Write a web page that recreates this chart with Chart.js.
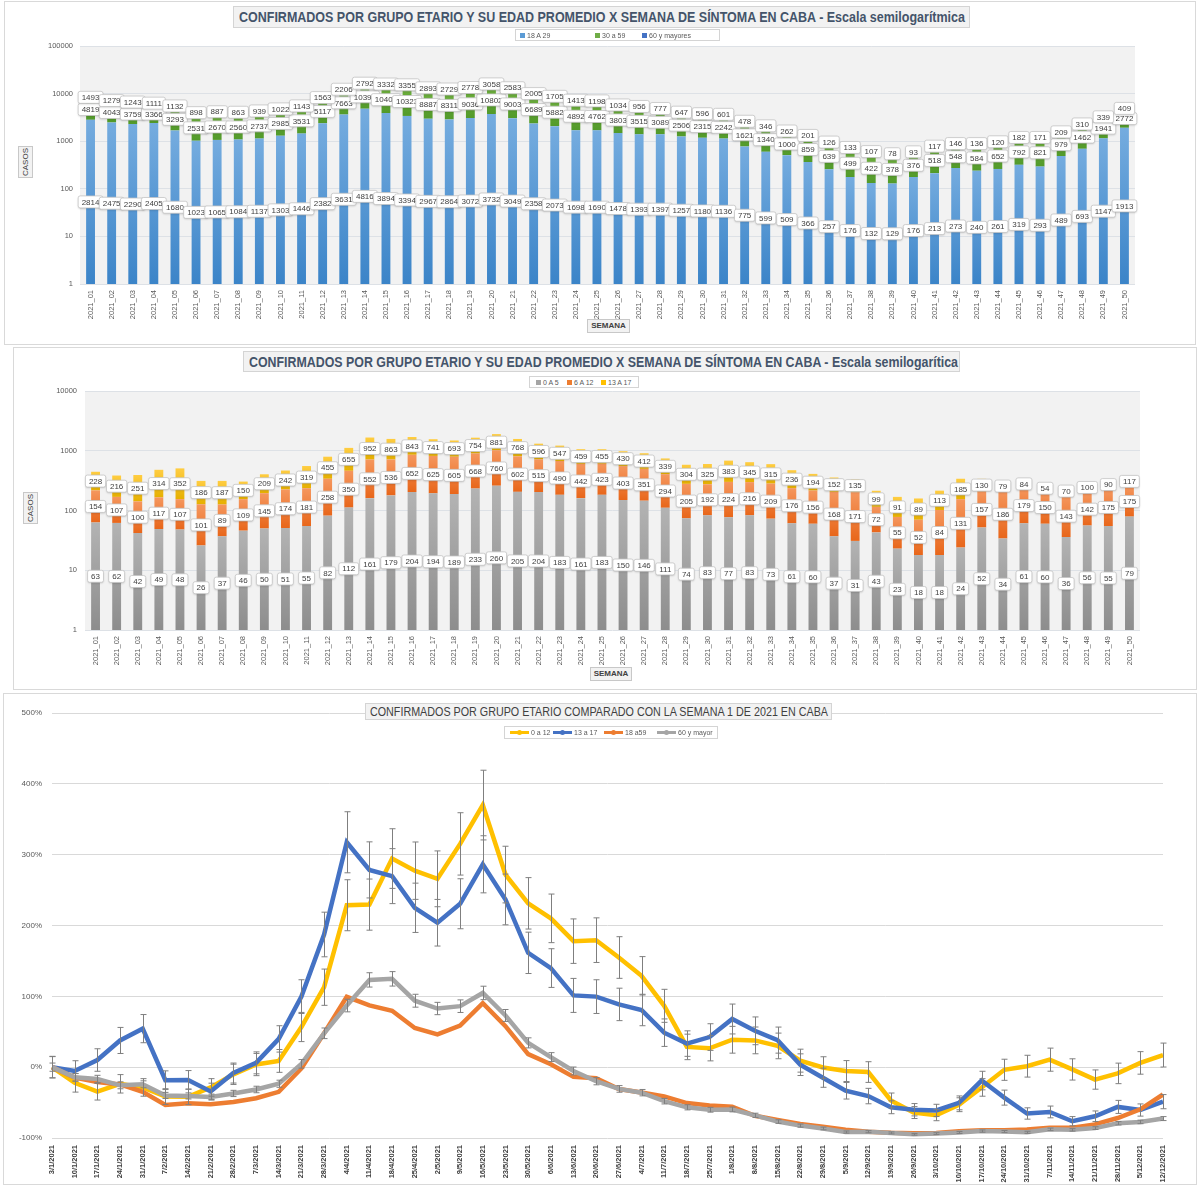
<!DOCTYPE html>
<html>
<head>
<meta charset="utf-8">
<script src="https://cdn.jsdelivr.net/npm/chart.js@4.4.1/dist/chart.umd.min.js"></script>
<style>
  body { margin: 0; background: #fff; font-family: "Liberation Sans", Arial, sans-serif; }
  .frame { position: absolute; border: 1px solid #d9d9d9; box-sizing: border-box; }
  .wrap { position: absolute; left: 0; width: 1200px; }
  .tt { position: absolute; background: #f2f2f2; border: 1px solid #d4d4d4; box-sizing: border-box;
        overflow: hidden; white-space: nowrap; }
  .tt span { display: inline-block; transform-origin: 0 50%; }
  .t12 { font-weight: bold; color: #44546a; font-size: 14px; line-height: 20px; padding-left: 5px; }
  .t3 { color: #404040; font-size: 13px; line-height: 15px; padding-left: 4px; }
  .lg { position: absolute; border: 1px solid #d4d4d4; box-sizing: border-box; background: #fff;
        font-size: 7px; color: #595959; }
  .lg .it { position: absolute; top: 2px; white-space: nowrap; line-height: 8px; }
  .lg .it i { display: inline-block; width: 5px; height: 5px; margin-right: 2px; vertical-align: 0; }
  .lg .ln { position: absolute; top: 2px; white-space: nowrap; line-height: 8px; }
  .lg .ln b { display: inline-block; position: relative; width: 19px; height: 3px; margin-right: 2px; vertical-align: 1px; }
  .lg .ln b::after { content: ""; position: absolute; left: 7px; top: -1px; width: 5px; height: 5px; border-radius: 50%; background: inherit; }
  .ax { position: absolute; background: #f2f2f2; border: 1px solid #c8c8c8; box-sizing: border-box;
        font-size: 8px; color: #404040; text-align: center; }
  .vert { writing-mode: vertical-rl; transform: rotate(180deg); line-height: 13px; }
</style>
</head>
<body>
<div class="frame" style="left:4px;top:1px;width:1192px;height:344px"></div>
<div class="frame" style="left:13px;top:347px;width:1184px;height:343px"></div>
<div class="frame" style="left:3px;top:693px;width:1194px;height:492px"></div>

<div class="wrap" style="top:0;height:345px"><canvas id="c1"></canvas></div>
<div class="wrap" style="top:347px;height:343px"><canvas id="c2"></canvas></div>
<div class="wrap" style="top:693px;height:494px"><canvas id="c3"></canvas></div>

<div class="tt t12" id="t1" style="left:233px;top:6px;width:737px;height:22px"><span>CONFIRMADOS POR GRUPO ETARIO Y SU EDAD PROMEDIO X SEMANA DE SÍNTOMA EN CABA - Escala semilogarítmica</span></div>
<div class="lg" style="left:515px;top:29px;width:205px;height:12px">
  <span class="it" style="left:4px"><i style="background:#5b9bd5"></i>18 A 29</span>
  <span class="it" style="left:79px"><i style="background:#70ad47"></i>30 a 59</span>
  <span class="it" style="left:126px"><i style="background:#4472c4"></i>60 y mayores</span>
</div>
<div class="ax vert" style="left:18px;top:146px;width:15px;height:32px">CASOS</div>
<div class="ax" style="left:587px;top:319px;width:43px;height:14px;line-height:12px;font-weight:bold">SEMANA</div>

<div class="tt t12" id="t2" style="left:243px;top:351px;width:717px;height:21px"><span>CONFIRMADOS POR GRUPO ETARIO Y SU EDAD PROMEDIO X SEMANA DE SÍNTOMA EN CABA - Escala semilogarítica</span></div>
<div class="lg" style="left:529px;top:376px;width:110px;height:12px">
  <span class="it" style="left:6px"><i style="background:#a5a5a5"></i>0 A 5</span>
  <span class="it" style="left:37px"><i style="background:#ed7d31"></i>6 A 12</span>
  <span class="it" style="left:71px"><i style="background:#ffc000"></i>13 A 17</span>
</div>
<div class="ax vert" style="left:23px;top:492px;width:15px;height:32px">CASOS</div>
<div class="ax" style="left:590px;top:667px;width:42px;height:14px;line-height:12px;font-weight:bold">SEMANA</div>

<div class="tt t3" id="t3" style="left:365px;top:703px;width:467px;height:17px"><span>CONFIRMADOS POR GRUPO ETARIO COMPARADO CON LA SEMANA 1 DE 2021 EN CABA</span></div>
<div class="lg" style="left:504px;top:726px;width:214px;height:13px">
  <span class="ln" style="left:5px"><b style="background:#ffc000"></b>0 a 12</span>
  <span class="ln" style="left:48px"><b style="background:#4472c4"></b>13 a 17</span>
  <span class="ln" style="left:99px"><b style="background:#ed7d31"></b>18 a59</span>
  <span class="ln" style="left:152px"><b style="background:#a5a5a5"></b>60 y mayor</span>
</div>

<script>
const semanas = ['2021_01','2021_02','2021_03','2021_04','2021_05','2021_06','2021_07','2021_08','2021_09','2021_10',
  '2021_11','2021_12','2021_13','2021_14','2021_15','2021_16','2021_17','2021_18','2021_19','2021_20',
  '2021_21','2021_22','2021_23','2021_24','2021_25','2021_26','2021_27','2021_28','2021_29','2021_30',
  '2021_31','2021_32','2021_33','2021_34','2021_35','2021_36','2021_37','2021_38','2021_39','2021_40',
  '2021_41','2021_42','2021_43','2021_44','2021_45','2021_46','2021_47','2021_48','2021_49','2021_50'];

// grafico 1: adultos
const casos18a29 = [2814,2475,2290,2405,1680,1023,1065,1084,1137,1303,1446,2382,3631,4816,3894,3394,2967,2864,3072,3732,
  3049,2358,2073,1698,1690,1478,1393,1397,1257,1180,1136,775,599,509,366,257,176,132,129,176,213,273,240,261,319,293,489,693,1147,1913];
const casos30a59 = [4819,4043,3759,3366,3293,2531,2670,2560,2737,2985,3531,5117,7663,10394,10403,10323,8887,8311,9036,10802,
  9003,6689,5882,4892,4762,3803,3515,3089,2506,2315,2242,1621,1340,1000,859,639,499,422,378,376,518,548,584,652,792,821,979,1462,1941,2772];
const casos60mas = [1493,1279,1243,1111,1132,898,887,863,939,1022,1143,1563,2206,2792,3332,3355,2893,2729,2778,3058,
  2583,2005,1705,1413,1198,1034,956,777,647,596,601,478,346,262,201,126,133,107,78,93,117,146,136,120,182,171,209,310,339,409];
const ticksLog1 = [1,10,100,1000,10000,100000];

// grafico 2: menores
const casos0a5 = [63,62,42,49,48,26,37,46,50,51,55,82,112,161,179,204,194,189,233,260,
  205,204,183,161,183,150,146,111,74,83,77,83,73,61,60,37,31,43,23,18,18,24,52,34,61,60,36,56,55,79];
const casos6a12 = [154,107,100,117,107,101,89,109,145,174,181,258,350,552,536,652,625,605,668,760,
  602,515,490,442,423,403,351,294,205,192,224,216,209,176,156,168,171,72,55,52,84,131,157,186,179,150,143,142,175,175];
const casos13a17 = [228,216,251,314,352,186,187,150,209,242,319,455,655,952,863,843,741,693,754,881,
  768,596,547,459,455,430,412,339,304,325,383,345,315,236,194,152,135,99,91,89,113,185,130,79,84,54,70,100,90,117];
const ticksLog2 = [1,10,100,1000,10000];

// grafico 3: variacion vs semana 1 (%)
const fechas = ['3/1/2021','10/1/2021','17/1/2021','24/1/2021','31/1/2021','7/2/2021','14/2/2021','21/2/2021','28/2/2021','7/3/2021',
  '14/3/2021','21/3/2021','28/3/2021','4/4/2021','11/4/2021','18/4/2021','25/4/2021','2/5/2021','9/5/2021','16/5/2021',
  '23/5/2021','30/5/2021','6/6/2021','13/6/2021','20/6/2021','27/6/2021','4/7/2021','11/7/2021','18/7/2021','25/7/2021',
  '1/8/2021','8/8/2021','15/8/2021','22/8/2021','29/8/2021','5/9/2021','12/9/2021','19/9/2021','26/9/2021','3/10/2021',
  '10/10/2021','17/10/2021','24/10/2021','31/10/2021','7/11/2021','14/11/2021','21/11/2021','28/11/2021','5/12/2021','12/12/2021'];
const var0a12 = [0,-22.1,-34.6,-23.5,-28.6,-41.5,-41.9,-28.6,-10.1,3.7,8.8,56.7,112.9,228.6,229.5,294.5,277.4,265.9,315.2,370.0,
  271.9,231.3,210.1,177.9,179.3,154.8,129.0,86.6,28.6,26.7,38.7,37.8,30.0,9.2,-0.5,-5.5,-6.9,-47.0,-64.1,-67.7,
  -53.0,-28.6,-3.7,1.4,10.6,-3.2,-17.5,-8.8,6.0,17.1];
const var13a17 = [0,-5.3,10.1,37.7,54.4,-18.4,-18.0,-34.2,-8.3,6.1,39.9,99.6,187.3,317.5,278.5,269.7,225.0,203.9,230.7,286.4,
  236.8,161.4,139.9,101.3,99.6,88.6,80.7,48.7,33.3,42.5,68.0,51.3,38.2,3.5,-14.9,-33.3,-40.8,-56.6,-60.1,-61.0,
  -50.4,-18.9,-43.0,-65.4,-63.2,-76.3,-69.3,-56.1,-60.5,-48.7];
const var18a59 = [0,-14.6,-20.8,-24.4,-34.8,-53.4,-51.1,-52.3,-49.2,-43.8,-34.8,-1.8,48.0,99.3,87.3,79.7,55.3,46.4,58.6,90.4,
  57.9,18.5,4.2,-13.7,-15.5,-30.8,-35.7,-41.2,-50.7,-54.2,-55.7,-68.6,-74.6,-80.2,-84.0,-88.3,-91.2,-92.7,-93.4,-92.8,
  -90.4,-89.2,-89.2,-88.0,-85.4,-85.4,-80.8,-71.8,-59.5,-38.6];
const var60mas = [0,-14.3,-16.7,-25.6,-24.2,-39.9,-40.6,-42.2,-37.1,-31.5,-23.4,4.7,47.8,87.0,123.2,124.7,93.8,82.8,86.1,104.8,
  73.0,34.3,14.2,-5.4,-19.8,-30.7,-36.0,-48.0,-56.7,-60.1,-59.7,-68.0,-76.8,-82.5,-86.5,-91.6,-91.1,-92.8,-94.8,-93.8,
  -92.2,-90.2,-90.9,-92.0,-87.8,-88.5,-86.0,-79.2,-77.3,-72.6];
// barras de error (+/- puntos porcentuales)
const err0a12 = [15.3,13.1,11.8,13.0,12.4,11.1,11.0,12.4,14.3,15.7,16.1,20.6,25.6,36.0,36.1,42.1,40.5,39.4,44.0,49.2,
  40.0,36.3,34.3,31.4,31.5,29.4,27.1,23.3,18.0,17.8,18.9,18.9,18.1,16.2,15.2,14.8,14.6,10.5,8.4,7.9,
  9.8,12.4,14.9,15.4,16.3,15.0,13.6,14.5,15.9,16.9];
const err13a17 = [14.9,14.4,15.9,18.4,19.9,13.2,13.2,11.6,14.1,15.5,18.6,23.8,31.5,43.1,39.6,38.8,34.8,32.9,35.3,40.3,
  35.8,29.2,27.3,24.0,23.8,22.9,22.2,19.4,18.0,18.8,21.1,19.6,18.4,15.3,13.5,11.7,10.9,9.1,8.7,8.6,
  9.8,13.1,10.6,8.0,8.3,6.5,7.5,9.2,8.6,10.0];
const err60mas = [5.8,5.3,5.2,4.9,4.9,4.3,4.3,4.2,4.4,4.6,5.0,6.0,7.5,8.9,10.1,10.2,9.1,8.7,8.9,9.5,
  8.4,7.1,6.3,5.6,5.1,4.7,4.5,3.9,3.6,3.4,3.4,3.0,2.5,2.2,1.9,1.5,1.5,1.4,1.2,1.3,
  1.4,1.6,1.5,1.5,1.8,1.7,1.9,2.4,2.5,2.8];
const ticksPct = [-100,0,100,200,300,400,500];

Chart.defaults.font.family = '"Liberation Sans", Arial, sans-serif';
Chart.defaults.color = '#595959';

// gradiente por segmento de la pila (oscuro abajo, claro arriba)
function segFill(dark, light) {
  return function (c) {
    const chart = c.chart, area = chart.chartArea;
    if (!area || c.type !== 'data') return light;
    const y = chart.scales.y;
    let start = 0;
    for (let i = 0; i < c.datasetIndex; i++) start += chart.data.datasets[i].data[c.dataIndex];
    const y0 = start > 0 ? y.getPixelForValue(start) : area.bottom;
    const y1 = y.getPixelForValue(start + c.raw);
    if (!isFinite(y0) || !isFinite(y1) || y0 === y1) return light;
    const g = chart.ctx.createLinearGradient(0, y0, 0, y1);
    g.addColorStop(0, dark);
    g.addColorStop(1, light);
    return g;
  };
}

const plotBg = {
  id: 'plotBg',
  beforeDraw(chart, args, opts) {
    if (!opts.color) return;
    const a = chart.chartArea, ctx = chart.ctx;
    ctx.save();
    ctx.fillStyle = opts.color;
    ctx.fillRect(a.left, a.top, a.width, a.height);
    ctx.restore();
  }
};

// etiquetas en cajita blanca al centro de cada segmento
const boxLabels = {
  id: 'boxLabels',
  afterDatasetsDraw(chart) {
    const ctx = chart.ctx;
    ctx.save();
    ctx.font = '8px "Liberation Sans", Arial, sans-serif';
    ctx.textAlign = 'center';
    ctx.textBaseline = 'middle';
    chart.data.datasets.forEach((ds, di) => {
      chart.getDatasetMeta(di).data.forEach((bar, i) => {
        const t = String(ds.data[i]);
        const cy = (bar.y + bar.base) / 2;
        const w = ctx.measureText(t).width + 7, h = 12;
        const x0 = bar.x - w / 2, y0 = cy - h / 2;
        ctx.shadowColor = 'rgba(0,0,0,0.18)';
        ctx.shadowBlur = 2;
        ctx.shadowOffsetY = 1;
        ctx.beginPath();
        ctx.roundRect(x0, y0, w, h, 2);
        ctx.fillStyle = '#ffffff';
        ctx.fill();
        ctx.shadowColor = 'transparent';
        ctx.strokeStyle = '#c4c4c4';
        ctx.lineWidth = 0.8;
        ctx.stroke();
        ctx.fillStyle = '#404040';
        ctx.fillText(t, bar.x, cy + 0.5);
      });
    });
    ctx.restore();
  }
};

const errBars = {
  id: 'errBars',
  afterDatasetsDraw(chart) {
    const ctx = chart.ctx, y = chart.scales.y;
    ctx.save();
    ctx.strokeStyle = '#7f7f7f';
    ctx.lineWidth = 1;
    chart.data.datasets.forEach((ds, di) => {
      if (!ds.err) return;
      chart.getDatasetMeta(di).data.forEach((pt, i) => {
        const v = ds.data[i], e = ds.err[i];
        const top = y.getPixelForValue(v + e), bot = y.getPixelForValue(v - e);
        const x = Math.round(pt.x) + 0.5;
        ctx.beginPath();
        ctx.moveTo(x, top); ctx.lineTo(x, bot);
        ctx.moveTo(x - 3, top); ctx.lineTo(x + 3, top);
        ctx.moveTo(x - 3, bot); ctx.lineTo(x + 3, bot);
        ctx.stroke();
      });
    });
    ctx.restore();
  }
};

function logOptions(ticksArr, left, right, top, xh, pad) {
  return {
    responsive: true,
    maintainAspectRatio: false,
    animation: false,
    layout: { padding: { top: top, right: right, left: 0, bottom: 0 } },
    datasets: { bar: { barPercentage: 0.42, categoryPercentage: 1 } },
    plugins: { legend: { display: false }, tooltip: { enabled: false }, plotBg: { color: '#f2f2f2' } },
    scales: {
      x: {
        stacked: true,
        grid: { display: false, drawTicks: false },
        border: { display: false },
        ticks: { minRotation: 90, maxRotation: 90, autoSkip: false, padding: 6, color: '#595959', font: { size: 7.5 } },
        afterFit: s => { s.height = xh; }
      },
      y: {
        type: 'logarithmic',
        stacked: true,
        min: ticksArr[0],
        max: ticksArr[ticksArr.length - 1],
        afterBuildTicks: s => { s.ticks = ticksArr.map(v => ({ value: v })); },
        ticks: { callback: v => String(v), padding: pad, color: '#595959', font: { size: 7.5 } },
        grid: { color: '#dde1e6', drawTicks: false },
        border: { display: false },
        afterFit: s => { s.width = left; }
      }
    }
  };
}

new Chart(document.getElementById('c1'), {
  type: 'bar',
  data: {
    labels: semanas,
    datasets: [
      { label: '18 A 29', data: casos18a29, backgroundColor: segFill('#3b84c8', '#75acdf') },
      { label: '30 a 59', data: casos30a59, backgroundColor: segFill('#529a2a', '#6fb13f') },
      { label: '60 y mayores', data: casos60mas, backgroundColor: segFill('#3c6bb4', '#4c7dcd') }
    ]
  },
  options: logOptions(ticksLog1, 80, 65, 46, 61, 7),
  plugins: [plotBg, boxLabels]
});

new Chart(document.getElementById('c2'), {
  type: 'bar',
  data: {
    labels: semanas,
    datasets: [
      { label: '0 A 5', data: casos0a5, backgroundColor: segFill('#8d8d8d', '#b3b3b3') },
      { label: '6 A 12', data: casos6a12, backgroundColor: segFill('#e8661a', '#f5975e') },
      { label: '13 A 17', data: casos13a17, backgroundColor: segFill('#e6b000', '#ffcd42') }
    ]
  },
  options: logOptions(ticksLog2, 85, 60, 44, 60, 8),
  plugins: [plotBg, boxLabels]
});

new Chart(document.getElementById('c3'), {
  type: 'line',
  data: {
    labels: fechas,
    datasets: [
      { label: '0 a 12', data: var0a12, err: err0a12, borderColor: '#ffc000', order: 4 },
      { label: '13 a 17', data: var13a17, err: err13a17, borderColor: '#4472c4', order: 3 },
      { label: '18 a59', data: var18a59, borderColor: '#ed7d31', order: 2 },
      { label: '60 y mayor', data: var60mas, err: err60mas, borderColor: '#a5a5a5', order: 1 }
    ]
  },
  options: {
    responsive: true,
    maintainAspectRatio: false,
    animation: false,
    layout: { padding: { top: 20, right: 37, left: 0, bottom: 0 } },
    elements: { line: { borderWidth: 4.5, tension: 0, fill: false }, point: { radius: 0 } },
    plugins: { legend: { display: false }, tooltip: { enabled: false } },
    scales: {
      x: {
        grid: { display: false, drawTicks: false },
        border: { display: false },
        ticks: { minRotation: 90, maxRotation: 90, autoSkip: false, padding: 7, color: '#404040',
                 font: { size: 7.5, weight: 'bold' } },
        afterFit: s => { s.height = 49; }
      },
      y: {
        min: -100,
        max: 500,
        afterBuildTicks: s => { s.ticks = ticksPct.map(v => ({ value: v })); },
        ticks: { callback: v => v + '%', padding: 10, color: '#595959', font: { size: 8 } },
        grid: { color: '#d9d9d9', drawTicks: false },
        border: { display: false },
        afterFit: s => { s.width = 52; }
      }
    }
  },
  plugins: [errBars]
});

// ajustar ancho de los titulos (fuente de Excel mas angosta)
function fit(id, w) {
  const s = document.querySelector('#' + id + ' span');
  const r = w / s.getBoundingClientRect().width;
  s.style.transform = 'scaleX(' + r + ')';
}
fit('t1', 726);
fit('t2', 709);
fit('t3', 458);
</script>
</body>
</html>
